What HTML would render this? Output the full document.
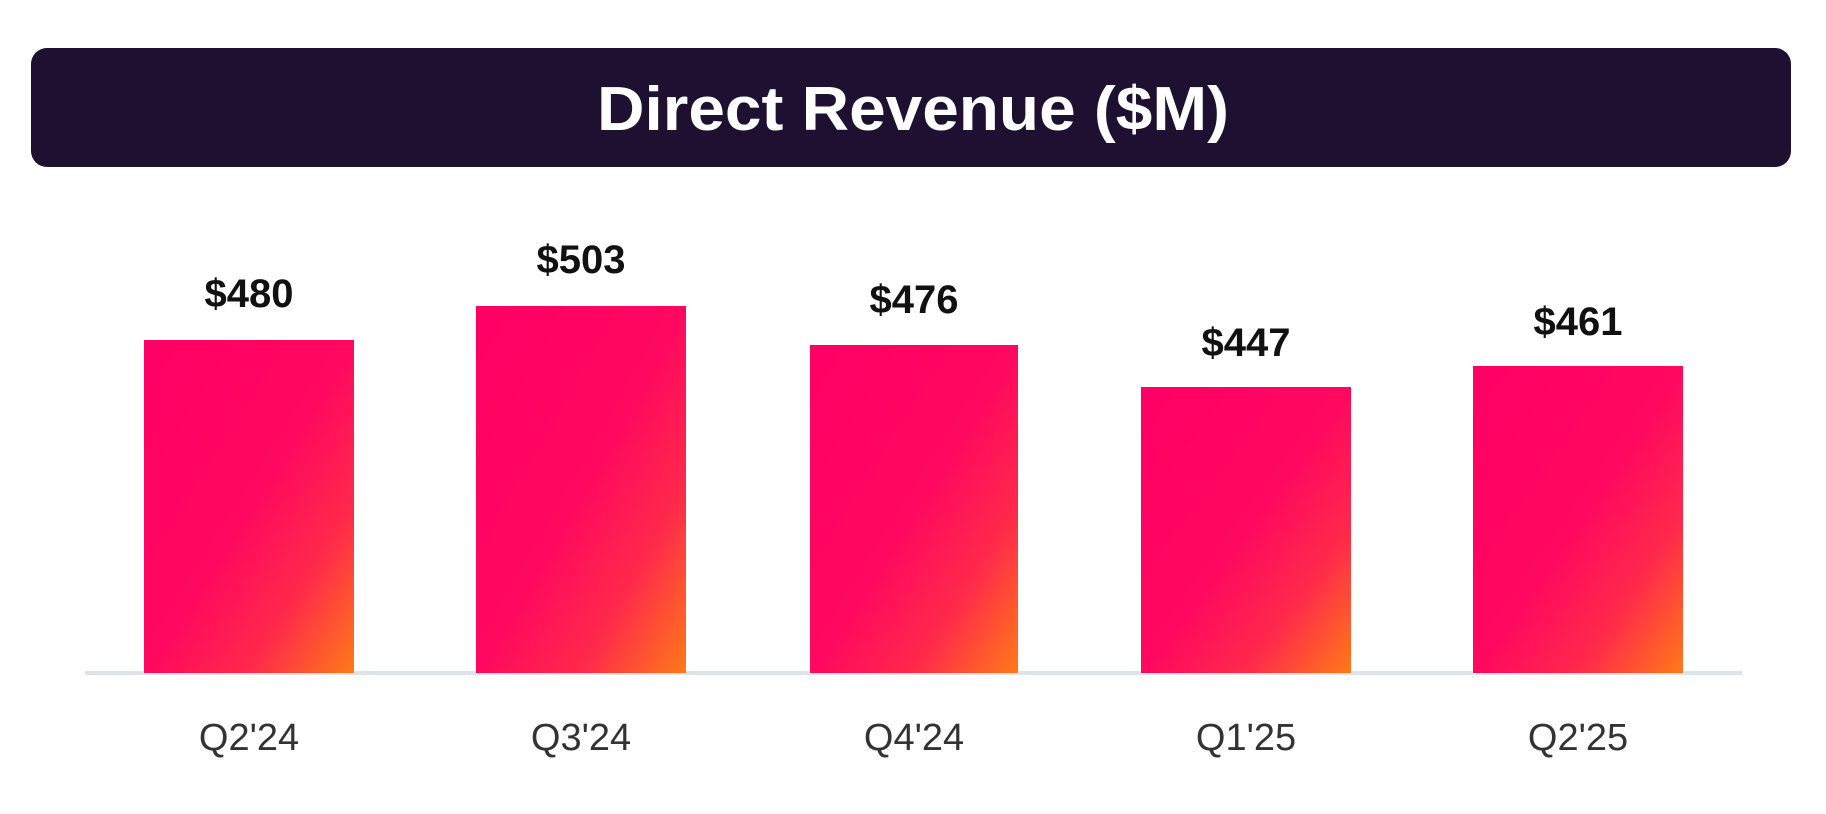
<!DOCTYPE html>
<html><head><style>
html,body{margin:0;padding:0;background:#fff;width:1826px;height:814px;overflow:hidden;font-family:"Liberation Sans",sans-serif}
</style></head><body>
<svg width="1826" height="814" xmlns="http://www.w3.org/2000/svg">
<defs>
<linearGradient id="g" x1="0" y1="0" x2="1" y2="1">
<stop offset="0" stop-color="#ff0064"/>
<stop offset="0.5" stop-color="#ff0860"/>
<stop offset="0.75" stop-color="#ff2a4a"/>
<stop offset="1" stop-color="#ff7a18"/>
</linearGradient>
</defs>
<rect x="31" y="48" width="1760" height="119" rx="16" fill="#1e1030"/>
<text x="913" y="130" text-anchor="middle" fill="#fff" font-weight="bold" font-size="62" textLength="632" lengthAdjust="spacingAndGlyphs">Direct Revenue ($M)</text>
<rect x="85" y="671" width="1657" height="4" fill="#dde3e6"/>
<g fill="url(#g)">
<rect x="144" y="340" width="210" height="333"/>
<rect x="476" y="306" width="210" height="367"/>
<rect x="810" y="345" width="208" height="328"/>
<rect x="1141" y="387" width="210" height="286"/>
<rect x="1473" y="366" width="210" height="307"/>
</g>
<g font-weight="bold" font-size="40" fill="#111" text-anchor="middle">
<text x="249" y="307">$480</text>
<text x="581" y="273">$503</text>
<text x="914" y="313">$476</text>
<text x="1246" y="356">$447</text>
<text x="1578" y="335">$461</text>
</g>
<g font-size="38" fill="#333" text-anchor="middle">
<text x="249" y="750">Q2'24</text>
<text x="581" y="750">Q3'24</text>
<text x="914" y="750">Q4'24</text>
<text x="1246" y="750">Q1'25</text>
<text x="1578" y="750">Q2'25</text>
</g>
</svg>
</body></html>
